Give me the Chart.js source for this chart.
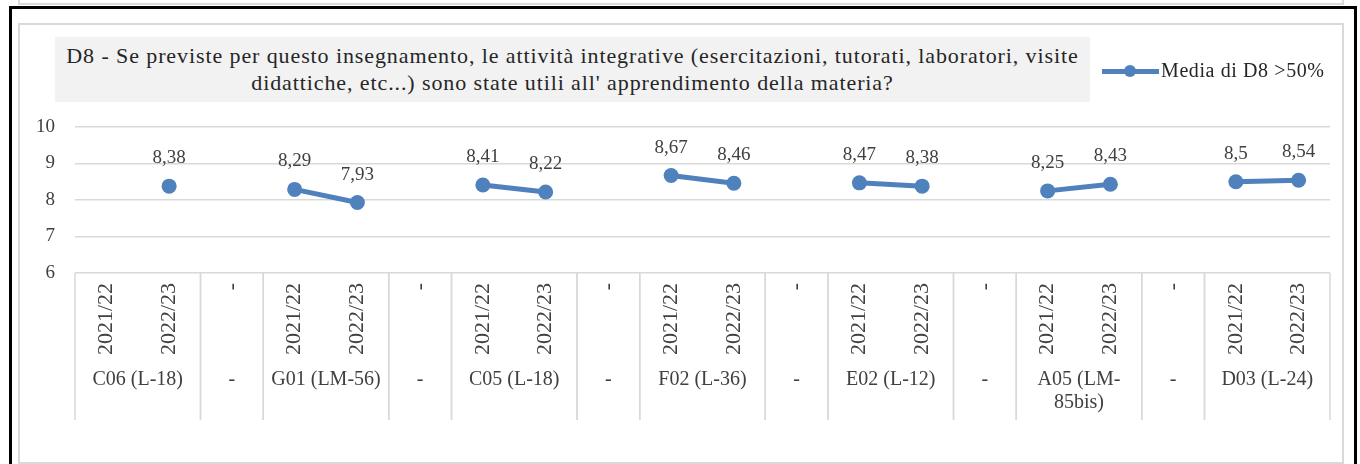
<!DOCTYPE html>
<html>
<head>
<meta charset="utf-8">
<script src="https://cdn.jsdelivr.net/npm/chart.js@4.4.1/dist/chart.umd.min.js"></script>
<style>
  body { margin: 0; width: 1360px; height: 464px; background: #fff; position: relative; overflow: hidden; font-family: "Liberation Serif", "DejaVu Serif", serif; }
  .box-prev { position: absolute; left: 18px; top: -12px; width: 1326px; height: 17px; border: 2px solid #d9d9d9; box-sizing: border-box; }
  .box-black { position: absolute; left: 9px; top: 6px; width: 1348px; height: 470px; border: 3px solid #000; border-bottom: none; box-sizing: border-box; }
  .box-inner { position: absolute; left: 18px; top: 23px; width: 1326px; height: 441px; border: 2px solid #d9d9d9; box-sizing: border-box; }
  #chart { position: absolute; left: 0; top: 0; }
  #title { position: absolute; left: 55px; top: 37px; width: 1035px; height: 65px; background: #f2f2f2; text-align: center; font-size: 22px; letter-spacing: 0.9px; line-height: 27px; color: #262626; padding-top: 5px; box-sizing: border-box; white-space: nowrap; }
  #legend { position: absolute; left: 1102px; top: 59px; height: 24px; font-size: 20px; letter-spacing: 0.6px; color: #262626; white-space: nowrap; }
  #legend .line { position: absolute; left: 0; top: 10px; width: 57px; height: 5px; background: #4f81bd; }
  #legend .dot { position: absolute; left: 22px; top: 6px; width: 12px; height: 12px; border-radius: 50%; background: #4f81bd; }
  #legend .txt { position: absolute; left: 59px; top: 0; }
</style>
</head>
<body>
<div class="box-prev"></div>
<div class="box-black"></div>
<div class="box-inner"></div>
<canvas id="chart" width="1360" height="464"></canvas>
<div id="title">D8 - Se previste per questo insegnamento, le attività integrative (esercitazioni, tutorati, laboratori, visite<br>didattiche, etc...) sono state utili all' apprendimento della materia?</div>
<div id="legend"><span class="line"></span><span class="dot"></span><span class="txt">Media di D8 &gt;50%</span></div>
<script>
// --- dati
const anni = ["2021/22", "2022/23", "-", "2021/22", "2022/23", "-", "2021/22", "2022/23", "-", "2021/22", "2022/23", "-",
  "2021/22", "2022/23", "-", "2021/22", "2022/23", "-", "2021/22", "2022/23"];
const corsi = ["C06 (L-18)", "C06 (L-18)", "-", "G01 (LM-56)", "G01 (LM-56)", "-", "C05 (L-18)", "C05 (L-18)", "-",
  "F02 (L-36)", "F02 (L-36)", "-", "E02 (L-12)", "E02 (L-12)", "-", "A05 (LM-85bis)", "A05 (LM-85bis)", "-",
  "D03 (L-24)", "D03 (L-24)"];
const mediaD8 = [null, 8.38, null, 8.29, 7.93, null, 8.41, 8.22, null, 8.67, 8.46, null, 8.47, 8.38, null, 8.25, 8.43, null, 8.5, 8.54];
const yTicks = [6, 7, 8, 9, 10];
const serieNome = "Media di D8 >50%";

const BLU = "#4f81bd";
const GRIGIO = "#d9d9d9";
const TESTO = "#404040";
const FONT = '"Liberation Serif", "DejaVu Serif", serif';
const ALTEZZA_ASSE = 147;

// spezza un'etichetta su più righe (dopo spazi o trattini)
function wrap(ctx, text, maxW) {
  const parts = text.split(/(?<=[ -])/);
  const lines = [];
  let cur = "";
  parts.forEach(p => {
    if (cur && ctx.measureText((cur + p).trim()).width > maxW) {
      lines.push(cur.trim());
      cur = p;
    } else {
      cur += p;
    }
  });
  if (cur) lines.push(cur.trim());
  return lines;
}

// tabella delle categorie sotto l'asse x (divisori + nomi dei corsi)
const tabellaCorsi = {
  id: "tabellaCorsi",
  afterDraw(chart) {
    const { ctx, chartArea, scales: { x } } = chart;
    const half = (x.getPixelForValue(1) - x.getPixelForValue(0)) / 2;
    const top = chartArea.bottom;
    const bottom = top + ALTEZZA_ASSE;
    ctx.save();
    ctx.strokeStyle = GRIGIO;
    ctx.lineWidth = 1.5;
    ctx.font = "20px " + FONT;
    ctx.fillStyle = TESTO;
    ctx.textAlign = "center";
    ctx.textBaseline = "middle";
    let start = 0;
    for (let i = 1; i <= corsi.length; i++) {
      if (i === corsi.length || corsi[i] !== corsi[i - 1]) {
        const x0 = x.getPixelForValue(start) - half;
        const x1 = x.getPixelForValue(i - 1) + half;
        [x0, x1].forEach(px => {
          ctx.beginPath();
          ctx.moveTo(px, top);
          ctx.lineTo(px, bottom);
          ctx.stroke();
        });
        const lines = wrap(ctx, corsi[start], x1 - x0 - 8);
        lines.forEach((l, k) => ctx.fillText(l, (x0 + x1) / 2, top + 107 + k * 23));
        start = i;
      }
    }
    ctx.restore();
  }
};

// etichette dei valori sopra i punti
const etichetteValori = {
  id: "etichetteValori",
  afterDatasetsDraw(chart) {
    const { ctx } = chart;
    const meta = chart.getDatasetMeta(0);
    ctx.save();
    ctx.font = "19px " + FONT;
    ctx.fillStyle = TESTO;
    ctx.textAlign = "center";
    ctx.textBaseline = "alphabetic";
    meta.data.forEach((pt, i) => {
      const v = mediaD8[i];
      if (v === null) return;
      ctx.fillText(String(v).replace(".", ","), pt.x, pt.y - 23);
    });
    ctx.restore();
  }
};

new Chart(document.getElementById("chart"), {
  type: "line",
  data: {
    labels: anni,
    datasets: [{
      label: serieNome,
      data: mediaD8,
      borderColor: BLU,
      backgroundColor: BLU,
      borderWidth: 5,
      pointRadius: 7.5,
      pointHoverRadius: 7.5,
      pointBorderWidth: 0,
      spanGaps: false,
      tension: 0
    }]
  },
  options: {
    responsive: false,
    animation: false,
    devicePixelRatio: 1,
    layout: { padding: { left: 20, right: 30, top: 127, bottom: 44 } },
    plugins: {
      legend: { display: false },
      title: { display: false },
      tooltip: { enabled: false }
    },
    scales: {
      x: {
        offset: true,
        grid: { display: false, drawTicks: false },
        border: { display: false },
        ticks: {
          color: TESTO,
          font: { family: FONT, size: 22 },
          minRotation: 90,
          maxRotation: 90,
          autoSkip: false,
          padding: 10
        },
        afterFit(scale) { scale.height = ALTEZZA_ASSE; }
      },
      y: {
        min: 6,
        max: 10,
        afterBuildTicks(scale) { scale.ticks = yTicks.map(v => ({ value: v })); },
        grid: { color: GRIGIO, lineWidth: 1.5, drawTicks: false },
        border: { display: false },
        ticks: {
          color: TESTO,
          font: { family: FONT, size: 19 },
          padding: 20
        },
        afterFit(scale) { scale.width = 55; }
      }
    }
  },
  plugins: [tabellaCorsi, etichetteValori]
});
</script>
</body>
</html>
